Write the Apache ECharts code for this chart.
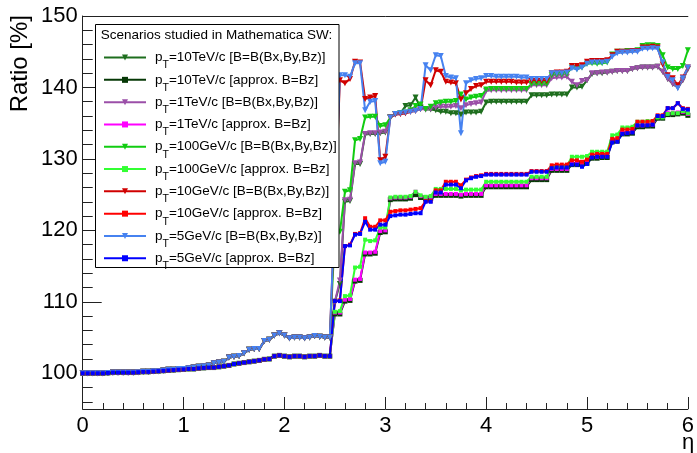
<!DOCTYPE html>
<html><head><meta charset="utf-8">
<script src="https://cdn.jsdelivr.net/npm/echarts@6/dist/echarts.min.js"></script>
<style>html,body{margin:0;padding:0;background:#fff}#c{width:697px;height:453px}</style>
</head><body><div id="c"></div>
<script>
const etaValues = [0.00,0.05,0.10,0.15,0.20,0.25,0.30,0.35,0.40,0.45,0.50,0.55,0.60,0.65,0.70,0.75,0.80,0.85,0.90,0.95,
1.00,1.05,1.10,1.15,1.20,1.25,1.30,1.35,1.40,1.45,1.50,1.55,1.60,1.65,1.70,1.75,1.80,1.85,1.90,1.95,
2.00,2.05,2.10,2.15,2.20,2.25,2.30,2.35,2.40,2.45,2.50,2.55,2.60,2.65,2.70,2.75,2.80,2.85,2.90,2.95,
3.00,3.05,3.10,3.15,3.20,3.25,3.30,3.35,3.40,3.45,3.50,3.55,3.60,3.65,3.70,3.75,3.80,3.85,3.90,3.95,
4.00,4.05,4.10,4.15,4.20,4.25,4.30,4.35,4.40,4.45,4.50,4.55,4.60,4.65,4.70,4.75,4.80,4.85,4.90,4.95,
5.00,5.05,5.10,5.15,5.20,5.25,5.30,5.35,5.40,5.45,5.50,5.55,5.60,5.65,5.70,5.75,5.80,5.85,5.90,5.95,6.00];

// eta 0 .. 2.45, full field scenarios
const lowFull = [100.0,100.0,100.0,100.0,100.0,100.05,100.1,100.1,100.1,100.1,
100.1,100.15,100.2,100.2,100.3,100.3,100.4,100.5,100.5,100.6,
100.6,100.7,100.8,100.9,101.0,101.1,101.4,101.5,101.6,102.2,
102.3,102.4,102.8,103.3,103.4,103.4,104.5,104.7,105.3,105.6,
105.3,104.9,105.0,105.0,104.9,105.0,105.2,105.1,105.0,105.0];
// eta 0 .. 2.45, approx scenarios
const lowApprox = [100.0,100.0,100.0,100.0,100.0,100.05,100.1,100.1,100.1,100.1,
100.1,100.15,100.2,100.2,100.25,100.3,100.35,100.4,100.45,100.5,
100.55,100.6,100.6,100.7,100.75,100.8,100.8,100.9,101.0,101.1,
101.3,101.4,101.5,101.6,101.7,101.8,101.95,102.0,102.4,102.5,
102.4,102.3,102.4,102.4,102.3,102.4,102.4,102.5,102.4,102.4];

// eta 2.5 .. 6.0
const hiFull10TeV = [110.0,112.5,124.0,124.1,129.3,129.3,133.4,133.5,133.5,133.6,
133.7,135.8,136.3,136.4,137.4,137.5,138.6,137.2,136.9,136.9,
136.8,136.6,136.6,136.4,136.4,136.2,136.5,136.5,136.5,136.6,
137.9,138.0,138.0,138.0,138.0,138.0,138.0,138.0,138.0,138.9,
138.9,138.9,138.9,139.0,139.0,139.0,139.0,140.0,140.0,140.1,
141.0,141.9,142.0,142.0,142.1,142.2,142.3,142.3,142.3,142.6,
142.7,142.8,142.8,142.8,142.9,142.2,141.2,140.5,140.0,141.0,142.6];
const hiApprox10TeV = [108.3,108.3,110.1,110.2,112.9,113.0,116.7,116.7,116.8,119.7,
119.8,124.3,124.4,124.4,124.4,124.5,125.0,124.6,124.4,124.5,
124.9,124.9,124.9,124.9,124.9,124.8,124.9,124.9,124.9,124.9,
126.1,126.1,126.1,126.1,126.1,126.1,126.1,126.1,126.1,127.1,
127.1,127.1,127.1,128.4,128.4,128.4,128.4,129.2,129.2,129.3,
129.4,130.1,130.1,130.2,130.2,132.4,132.5,133.5,133.5,133.6,
134.5,134.5,134.6,134.6,135.7,135.7,136.2,136.2,136.3,136.4,136.1];
const hiFull1TeV = [110.0,113.0,124.2,124.3,129.4,129.5,133.5,133.6,133.6,133.7,
133.8,135.8,136.2,136.3,136.4,136.6,136.8,137.0,136.9,137.0,
137.2,137.3,137.3,137.3,137.4,137.1,137.5,137.7,137.8,137.9,
139.5,139.6,139.6,139.6,139.6,139.6,139.6,139.6,139.6,140.3,
140.3,140.3,140.3,141.3,141.4,141.4,141.5,140.8,140.3,140.9,
141.0,142.0,142.0,142.1,142.1,142.2,142.3,142.3,142.3,142.6,
142.7,142.8,142.8,142.8,142.9,142.2,141.2,140.5,140.0,141.0,142.6];
const hiApprox1TeV = [108.5,108.5,110.3,110.4,113.1,113.2,116.9,116.9,117.0,119.9,
120.0,124.5,124.6,124.6,124.6,124.7,125.4,124.8,124.6,124.7,
125.1,125.1,125.1,125.1,125.1,125.0,125.1,125.1,125.1,125.1,
126.3,126.3,126.3,126.3,126.3,126.3,126.3,126.3,126.3,127.3,
127.3,127.3,127.3,128.6,128.6,128.6,128.6,129.4,129.4,129.5,
129.6,130.3,130.3,130.4,130.4,132.6,132.7,133.7,133.7,133.8,
134.7,134.7,134.8,134.8,135.9,135.9,136.4,136.4,136.5,136.6,136.3];
const hiFull100GeV = [119.5,119.8,125.4,125.6,132.6,132.8,135.8,135.9,135.9,134.6,
134.7,135.8,136.3,136.4,136.5,136.8,137.4,137.6,137.0,137.3,
137.8,137.9,138.0,138.0,138.1,139.0,138.3,138.6,138.7,138.8,
139.7,139.8,139.8,139.8,139.8,139.8,139.8,139.8,139.8,140.5,
140.5,140.5,140.5,141.7,141.8,141.8,141.9,142.8,142.6,142.8,
143.3,143.4,143.3,143.4,143.5,144.6,145.0,145.0,145.1,145.1,
145.2,145.8,145.9,145.9,145.8,144.5,142.8,142.6,142.6,143.0,145.2];
const hiApprox100GeV = [108.6,108.7,110.8,110.9,114.8,114.9,118.7,118.5,118.6,120.4,
120.4,124.6,124.7,124.7,124.7,124.8,125.4,124.9,124.7,124.8,
125.8,125.8,125.8,125.8,125.8,125.6,125.7,125.7,125.7,125.7,
126.8,126.8,126.8,126.8,126.8,126.8,126.8,126.8,126.8,127.5,
127.5,127.5,127.5,128.9,128.9,129.0,129.0,130.3,130.3,130.3,
130.4,131.0,131.0,131.0,131.0,133.3,133.4,134.4,134.4,134.5,
135.2,135.2,135.3,135.3,135.8,135.8,136.3,136.4,136.4,136.7,136.4];
const hiFull10GeV = [122.8,141.0,140.6,141.2,143.6,143.5,138.4,138.6,138.8,129.8,
130.3,135.8,136.2,136.3,136.4,136.6,136.7,137.0,141.0,140.3,
142.4,142.2,140.8,140.7,140.6,138.3,139.2,139.8,140.2,140.3,
140.8,140.8,140.8,140.8,140.8,140.8,140.7,140.7,140.7,140.9,
140.9,140.9,140.9,142.0,142.1,142.1,142.2,143.0,143.0,143.1,
143.6,143.7,143.7,143.7,143.8,144.5,145.0,145.0,145.0,145.1,
145.1,145.6,145.6,145.7,145.6,143.2,141.7,141.3,140.3,141.4,142.8];
const hiApprox10GeV = [110.1,110.2,117.8,118.0,119.5,119.6,121.7,120.5,120.5,121.4,
121.4,122.6,122.7,122.8,122.8,122.9,123.0,123.1,124.1,124.1,
125.6,125.6,126.8,126.8,126.8,126.3,127.1,127.4,127.6,127.7,
127.9,127.9,127.9,127.9,127.9,127.9,127.9,127.9,127.9,128.3,
128.3,128.3,128.3,129.1,129.2,129.2,129.2,129.8,129.8,129.6,
129.9,130.6,130.7,130.7,130.7,132.8,132.9,134.1,134.1,134.2,
135.2,135.2,135.2,135.3,136.1,136.1,137.1,137.1,137.8,137.1,137.0];
const hiFull5GeV = [123.3,141.7,141.7,141.5,143.4,143.4,136.8,138.0,138.1,129.4,
129.6,135.8,136.3,136.4,136.5,136.6,136.7,137.0,143.1,142.4,
144.5,144.4,141.6,141.4,141.3,133.6,140.6,141.0,141.2,141.3,
141.6,141.6,141.5,141.5,141.5,141.5,141.5,141.4,141.4,141.2,
141.2,141.2,141.2,142.0,142.0,142.0,142.1,142.7,142.5,142.8,
143.3,143.5,143.5,143.5,143.6,144.3,144.8,144.9,144.9,145.0,
145.0,145.4,145.4,145.5,145.4,143.5,141.5,141.0,139.9,141.3,142.8];
const hiApprox5GeV = [110.1,110.1,117.8,117.9,119.4,119.5,121.2,120.1,120.1,120.8,
120.8,122.0,122.1,122.2,122.2,122.3,122.4,122.4,124.0,124.0,
125.3,125.3,126.4,126.4,126.4,125.9,127.0,127.3,127.5,127.6,
127.8,127.8,127.8,127.8,127.8,127.8,127.8,127.8,127.8,128.2,
128.2,128.2,128.2,128.7,128.8,128.8,128.8,129.2,129.2,128.9,
129.3,130.2,130.3,130.3,130.3,132.3,132.4,133.5,133.6,133.7,
134.7,134.7,134.7,134.8,136.0,136.0,137.1,137.1,137.8,137.0,136.9];

const seriesNames = [
 'p_T=10TeV/c [B=B(Bx,By,Bz)]','p_T=10TeV/c [approx. B=Bz]',
 'p_T=1TeV/c [B=B(Bx,By,Bz)]','p_T=1TeV/c [approx. B=Bz]',
 'p_T=100GeV/c [B=B(Bx,By,Bz)]','p_T=100GeV/c [approx. B=Bz]',
 'p_T=10GeV/c [B=B(Bx,By,Bz)]','p_T=10GeV/c [approx. B=Bz]',
 'p_T=5GeV/c [B=B(Bx,By,Bz)]','p_T=5GeV/c [approx. B=Bz]'];
const seriesValues = [
 lowFull.concat(hiFull10TeV), lowApprox.concat(hiApprox10TeV),
 lowFull.concat(hiFull1TeV), lowApprox.concat(hiApprox1TeV),
 lowFull.concat(hiFull100GeV), lowApprox.concat(hiApprox100GeV),
 lowFull.concat(hiFull10GeV), lowApprox.concat(hiApprox10GeV),
 lowFull.concat(hiFull5GeV), lowApprox.concat(hiApprox5GeV)];
const seriesColors = ['#1e6e1e','#063806','#9b4fa8','#ff00ff','#11cc11','#33ff33','#d00000','#ff0000','#4682f0','#0000ff'];
const fullField = [true,false,true,false,true,false,true,false,true,false];

const xTickLabels = ['0','1','2','3','4','5','6'];
const yTickLabels = [100,110,120,130,140,150];
const yMinorTicks = [96,98,102,104,106,108,112,114,116,118,122,124,126,128,132,134,136,138,142,144,146,148];
const legendHeader = 'Scenarios studied in Mathematica SW:';

const FONT = 'Liberation Sans, Arial, Helvetica, sans-serif';
const chart = echarts.init(document.getElementById('c'), null, {renderer:'canvas'});

const series = seriesNames.map((name, k) => ({
  name: name,
  type: 'line',
  data: etaValues.map((e, i) => [e, seriesValues[k][i]]),
  showSymbol: true,
  symbol: fullField[k] ? 'triangle' : 'rect',
  symbolRotate: fullField[k] ? 180 : 0,
  symbolSize: fullField[k] ? 6 : (k === 1 ? 5 : 4),
  lineStyle: {width: 2, color: seriesColors[k]},
  itemStyle: {color: seriesColors[k]},
  emphasis: {disabled: true},
  animation: false,
  z: 2
}));

chart.setOption({
  animation: false,
  backgroundColor: '#fff',
  grid: {left: 82.7, top: 16, right: 4.3, bottom: 44, containLabel: false},
  xAxis: [{
    type: 'value', min: 0, max: 6, interval: 1,
    axisLine: {show: true, lineStyle: {color: '#222', width: 1}},
    axisTick: {show: true, inside: true, length: 12, lineStyle: {color: '#222'}},
    minorTick: {show: true, splitNumber: 5, length: 6, lineStyle: {color: '#222'}},
    splitLine: {show: false},
    axisLabel: {fontSize: 22, color: '#000', fontFamily: FONT, margin: 6,
      formatter: v => xTickLabels[Math.round(v)] !== undefined && Math.abs(v - Math.round(v)) < 1e-6 ? xTickLabels[Math.round(v)] : ''}
  }, {
    type: 'value', min: 0, max: 6, position: 'top',
    axisLine: {show: true, lineStyle: {color: '#222', width: 1}},
    axisTick: {show: false}, axisLabel: {show: false}, splitLine: {show: false}
  }],
  yAxis: [{
    type: 'value', min: 95, max: 150,
    axisLine: {show: true, lineStyle: {color: '#222', width: 1}},
    axisTick: {show: true, inside: true, length: 19, customValues: yTickLabels, lineStyle: {color: '#222'}},
    axisLabel: {fontSize: 22, color: '#000', fontFamily: FONT, margin: 5, customValues: yTickLabels},
    splitLine: {show: false}
  }, {
    type: 'value', min: 95, max: 150, position: 'left',
    axisLine: {show: false},
    axisTick: {show: true, inside: true, length: 10, customValues: yMinorTicks, lineStyle: {color: '#222'}},
    axisLabel: {show: false},
    splitLine: {show: false}
  }],
  legend: {
    show: true,
    orient: 'vertical',
    left: 103, top: 44.05,
    padding: 0,
    itemWidth: 42, itemHeight: 7.5, itemGap: -4.7,
    selectedMode: false,
    z: 6,
    data: seriesNames,
    formatter: name => '{p|p}{s|T}{t|' + name.replace('p_T', '') + '}',
    textStyle: {
      fontFamily: FONT, fontSize: 13.5, color: '#000',
      rich: {
        p: {fontFamily: FONT, fontSize: 13.5, lineHeight: 14, color: '#000', padding: [0,0,0,4]},
        s: {fontFamily: FONT, fontSize: 10.5, lineHeight: 10.5, color: '#000', padding: [16,0,0,0]},
        t: {fontFamily: FONT, fontSize: 13.5, lineHeight: 14, color: '#000'}
      }
    }
  },
  graphic: [
    {type: 'rect', z: 5, shape: {x: 95.5, y: 24.5, width: 243.5, height: 243}, style: {fill: '#fff', stroke: '#000', lineWidth: 1}},
    {type: 'text', z: 7, left: 100.7, top: 28, style: {text: legendHeader, font: '13.5px ' + FONT, fill: '#000'}},
    {type: 'text', z: 10, x: 20, y: 15, rotation: Math.PI / 2, style: {text: 'Ratio [%]', font: '24px ' + FONT, fill: '#000', align: 'right', verticalAlign: 'middle'}},
    {type: 'text', z: 10, x: 682, y: 443, style: {text: 'η', font: '22px ' + FONT, fill: '#000', align: 'left', verticalAlign: 'middle'}}
  ],
  series: series
});
</script></body></html>
